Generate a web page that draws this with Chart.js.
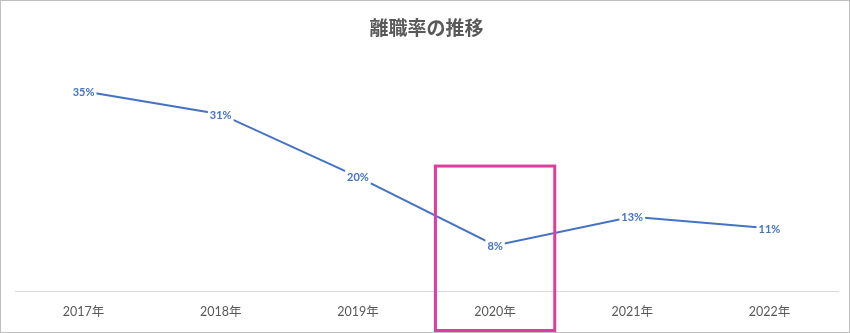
<!DOCTYPE html>
<html>
<head>
<meta charset="utf-8">
<script src="https://cdn.jsdelivr.net/npm/chart.js@4"></script>
<style>
  html, body { margin: 0; padding: 0; background: #fff; }
  #wrap { position: relative; width: 848px; height: 331px; border: 1px solid #bfbfbf; }
</style>
</head>
<body>
<div id="wrap"><canvas id="rateChart" width="848" height="331"></canvas></div>
<script>
const years = ["2017年", "2018年", "2019年", "2020年", "2021年", "2022年"];
const rates = [35, 31, 20, 8, 13, 11];
const highlightIndex = 3;

const lineColor = "#4472c4";
const font = "'Lato', 'Noto Sans CJK JP', sans-serif";

// value labels with white backing, drawn over the line
const valueLabels = {
  id: "valueLabels",
  afterDatasetsDraw(chart) {
    const ctx = chart.ctx;
    const meta = chart.getDatasetMeta(0);
    ctx.save();
    ctx.font = "bold 11px " + font;
    ctx.textAlign = "center";
    ctx.textBaseline = "middle";
    meta.data.forEach((pt, i) => {
      const txt = rates[i] + "%";
      const w = ctx.measureText(txt).width + 4;
      ctx.fillStyle = "#fff";
      ctx.fillRect(pt.x - w / 2, pt.y - 7, w, 14);
      ctx.fillStyle = lineColor;
      ctx.fillText(txt, pt.x, pt.y + 1);
    });
    ctx.restore();
  }
};

// magenta frame around the highlighted year
const highlightBox = {
  id: "highlightBox",
  afterDraw(chart) {
    const x = chart.scales.x, y = chart.scales.y;
    const cx = x.getPixelForValue(highlightIndex);
    const step = x.getPixelForValue(1) - x.getPixelForValue(0);
    const half = step * 0.435;
    const top = y.getPixelForValue(21.9);
    const bottom = chart.height - 1.5;
    const ctx = chart.ctx;
    ctx.save();
    ctx.strokeStyle = "#e03c9e";
    ctx.lineWidth = 3;
    ctx.strokeRect(cx - half, top, half * 2, bottom - top);
    ctx.restore();
  }
};

new Chart(document.getElementById("rateChart"), {
  type: "line",
  data: {
    labels: years,
    datasets: [{
      data: rates,
      borderColor: lineColor,
      borderWidth: 2,
      pointRadius: 0,
      tension: 0
    }]
  },
  options: {
    responsive: false,
    animation: false,
    layout: { padding: { left: 14, right: 11, top: 0, bottom: 0 } },
    plugins: {
      legend: { display: false },
      tooltip: { enabled: false },
      title: {
        display: true,
        text: "離職率の推移",
        color: "#595959",
        font: { family: font, size: 19, weight: "bold" },
        padding: { top: 16, bottom: 23 }
      }
    },
    scales: {
      x: {
        offset: true,
        grid: { display: false, drawTicks: false },
        border: { display: true, color: "#d9d9d9", width: 1 },
        ticks: { color: "#595959", font: { family: font, size: 12.5 }, padding: 13 }
      },
      y: {
        display: false,
        min: 0,
        max: 40
      }
    }
  },
  plugins: [valueLabels, highlightBox]
});
</script>
</body>
</html>
